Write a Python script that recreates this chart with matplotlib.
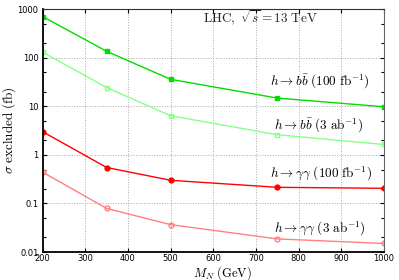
import numpy as np
import matplotlib.pyplot as plt
from matplotlib.ticker import LogLocator, NullFormatter, FixedLocator

plt.rcParams['mathtext.fontset'] = 'cm'
plt.rcParams['font.family'] = 'DejaVu Sans'

# masses (GeV)
m_n = [200, 350, 500, 750, 1000]

# excluded cross sections (fb)
bb_100fb = [706, 136, 36, 14.8, 9.8]
bb_3ab = [130, 24.4, 6.4, 2.6, 1.64]
aa_100fb = [3.0, 0.55, 0.30, 0.215, 0.205]
aa_3ab = [0.44, 0.079, 0.0366, 0.0186, 0.015]

fig = plt.figure(figsize=(3.99, 2.8), dpi=100)
ax = fig.add_axes([0.107, 0.1, 0.855, 0.867])

ax.plot(m_n, bb_100fb, color='#00dd00', lw=1.0, marker='s', ms=3.5, mfc='#00dd00', mec='#00dd00')
ax.plot(m_n, bb_3ab, color='#88ff88', lw=1.0, marker='s', ms=3.5, mfc='none', mec='#88ff88')
ax.plot(m_n, aa_100fb, color='#ff0000', lw=1.0, marker='o', ms=3.5, mfc='#ff0000', mec='#ff0000')
ax.plot(m_n, aa_3ab, color='#ff8080', lw=1.0, marker='o', ms=3.5, mfc='none', mec='#ff8080')

ax.set_yscale('log')
ax.set_xlim(200, 1000)
ax.set_ylim(0.01, 1000)
ax.xaxis.set_major_locator(FixedLocator(np.arange(200, 1001, 100)))
ax.set_yticks([0.01, 0.1, 1, 10, 100, 1000])
ax.set_yticklabels(['0.01', '0.1', '1', '10', '100', '1000'])
ax.yaxis.set_minor_locator(LogLocator(base=10, subs=[2, 5]))
ax.yaxis.set_minor_formatter(NullFormatter())
ax.tick_params(which='both', direction='in', top=True, right=True, labelsize=6)
ax.tick_params(axis='x', pad=1.5)
ax.tick_params(axis='y', pad=3)
ax.tick_params(which='major', length=3, width=0.8)
ax.tick_params(which='minor', length=2, width=0.8)
ax.grid(True, which='major', ls=':', color='#aaaaaa', lw=0.7)

ax.spines['left'].set_linewidth(1.3)
ax.spines['bottom'].set_linewidth(1.3)
ax.spines['top'].set_color('#333333')
ax.spines['right'].set_color('#666666')

ax.set_xlabel(r'$M_N\ \mathrm{(GeV)}$', fontsize=9, va='center')
ax.xaxis.set_label_coords(0.528, -0.085)
ax.set_ylabel(r'$\sigma\ \mathrm{excluded\ (fb)}$', fontsize=9.5, labelpad=0)

fs = 9.5
ax.text(0.47, 0.964, r'$\mathrm{LHC,}\ \sqrt{s} = 13\ \mathrm{TeV}$', transform=ax.transAxes, fontsize=fs, va='center', ha='left', color='#222222')
ax.text(0.959, 0.699, r'$h \to b\bar{b}\ (100\ \mathrm{fb}^{-1})$', transform=ax.transAxes, fontsize=fs, ha='right', va='center')
ax.text(0.941, 0.519, r'$h \to b\bar{b}\ (3\ \mathrm{ab}^{-1})$', transform=ax.transAxes, fontsize=fs, ha='right', va='center')
ax.text(0.965, 0.323, r'$h \to \gamma\gamma\ (100\ \mathrm{fb}^{-1})$', transform=ax.transAxes, fontsize=fs, ha='right', va='center')
ax.text(0.947, 0.094, r'$h \to \gamma\gamma\ (3\ \mathrm{ab}^{-1})$', transform=ax.transAxes, fontsize=fs, ha='right', va='center')

fig.savefig('out.png', dpi=100)
